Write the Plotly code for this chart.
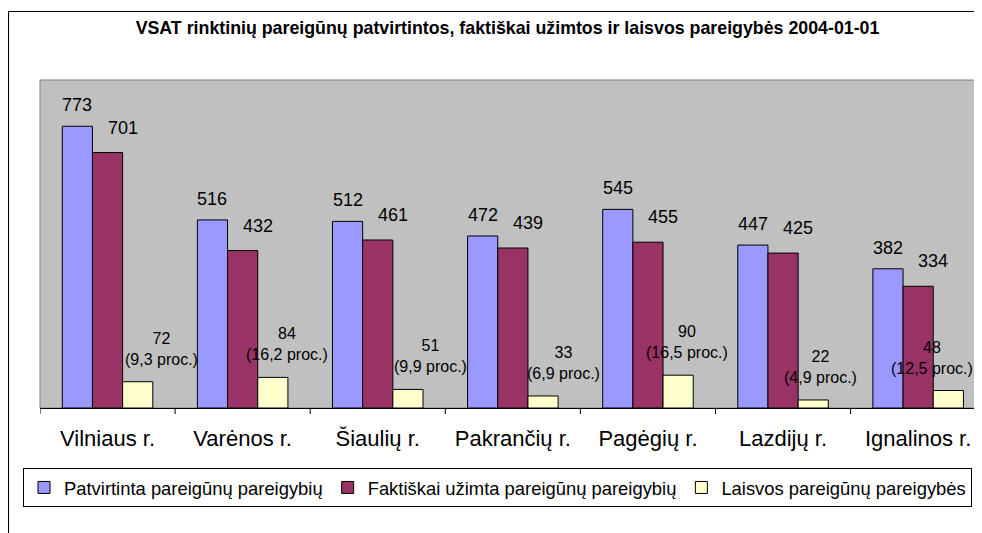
import plotly.graph_objects as go

# ---------------- data ----------------
categories = ["Vilniaus r.", "Varėnos r.", "Šiaulių r.", "Pakrančių r.",
              "Pagėgių r.", "Lazdijų r.", "Ignalinos r."]
approved = [773, 516, 512, 472, 545, 447, 382]
occupied = [701, 432, 461, 439, 455, 425, 334]
vacant = [72, 84, 51, 33, 90, 22, 48]
vacant_pct = ["9,3", "16,2", "9,9", "6,9", "16,5", "4,9", "12,5"]
series_names = ["Patvirtinta pareigūnų pareigybių",
                "Faktiškai užimta pareigūnų pareigybių",
                "Laisvos pareigūnų pareigybės"]
title_text = "VSAT rinktinių pareigūnų patvirtintos, faktiškai užimtos ir laisvos pareigybės 2004-01-01"

# ---------------- layout constants ----------------
OFF = 8                      # page body margin in the browser
W, H = 982 - OFF, 533 - OFF
ML, MR, MT = 40 - OFF, 0, 80 - OFF
MB = H - (408 - OFF)
PW, PH = W - ML - MR, H - MT - MB
BARGAP = 0.33
BAR_W = (1 - BARGAP) / 3
CAT_PX = 135.1
FONT = "Liberation Sans, Arial, sans-serif"
colors = ["#9999FF", "#993366", "#FFFFCC"]
# label horizontal nudges (px) for the vacant-post labels, as placed in the original
vacant_label_dx = [24, 14, 23, 20, 9, 7, -16]


def px_x(x):
    """page pixel x -> paper coordinate"""
    return (x - OFF - ML) / PW


def px_y(y):
    """page pixel y -> paper coordinate"""
    return (H - MB - (y - OFF)) / PH


fig = go.Figure()
for name, vals, col in zip(series_names, [approved, occupied, vacant], colors):
    fig.add_trace(go.Bar(
        x=list(range(len(categories))), y=vals, name=name,
        marker=dict(color=col, line=dict(color="black", width=1)),
    ))

annotations = []
for i in range(len(categories)):
    annotations.append(dict(
        x=i - BAR_W, y=approved[i], xref="x", yref="y", text=str(approved[i]),
        showarrow=False, yanchor="bottom", xanchor="center", yshift=9,
        font=dict(size=18, color="black", family=FONT)))
    annotations.append(dict(
        x=i, y=occupied[i], xref="x", yref="y", text=str(occupied[i]),
        showarrow=False, yanchor="bottom", xanchor="center", yshift=13, xshift=15,
        font=dict(size=18, color="black", family=FONT)))
    annotations.append(dict(
        x=i + BAR_W, y=vacant[i], xref="x", yref="y",
        text=f"{vacant[i]}<br>({vacant_pct[i]} proc.)",
        showarrow=False, yanchor="bottom", xanchor="center", yshift=12,
        xshift=vacant_label_dx[i], align="center",
        font=dict(size=16, color="black", family=FONT)))

shapes = [
    # plot-area frame
    dict(type="rect", xref="paper", yref="paper", x0=0, x1=1.01, y0=0, y1=1,
         line=dict(color="#808080", width=1), layer="below"),
    # outer chart frame
    dict(type="rect", xref="paper", yref="paper",
         x0=px_x(8.5), x1=px_x(1020), y0=px_y(600), y1=px_y(11.5),
         line=dict(color="black", width=1.2), layer="above"),
]

fig.update_layout(
    width=W, height=H,
    margin=dict(l=ML, r=MR, t=MT, b=MB),
    paper_bgcolor="white", plot_bgcolor="#C0C0C0",
    barmode="group", bargap=BARGAP, bargroupgap=0,
    font=dict(family=FONT, color="black"),
    title=dict(text="<b>" + title_text + "</b>", x=px_x(507.5), xref="paper",
               xanchor="center", y=1 - (28 - OFF) / H, yref="container", yanchor="middle",
               font=dict(size=17.8, family=FONT, color="black")),
    xaxis=dict(
        tickmode="array", tickvals=list(range(len(categories))), ticktext=categories,
        range=[-0.5, len(categories) - 0.5 - 3.7 / CAT_PX],
        showline=True, linecolor="black", linewidth=1,
        ticks="", showgrid=False, zeroline=False,
        tickfont=dict(size=22, family=FONT, color="black"),
        ticklabelstandoff=11,
    ),
    yaxis=dict(range=[0, 900], visible=False, showgrid=False),
    legend=dict(
        orientation="h", x=px_x(23), y=px_y(468), xanchor="left", yanchor="top",
        bgcolor="white", bordercolor="black", borderwidth=1,
        font=dict(size=18.4, family=FONT, color="black"),
        itemwidth=30, traceorder="normal",
    ),
    annotations=annotations,
    shapes=shapes,
)

# category boundary tick marks below the axis line
for b in range(len(categories)):
    fig.add_shape(type="line", xref="x", yref="paper", x0=b - 0.5, x1=b - 0.5,
                  y0=0, y1=-6 / PH, line=dict(color="black", width=1))

fig.write_html("out.html")
